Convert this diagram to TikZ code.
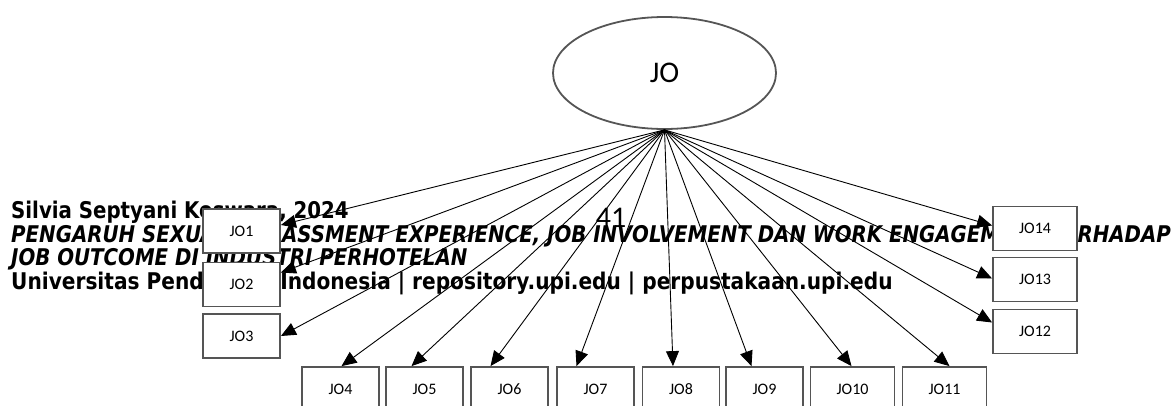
\documentclass[tikz,border=0pt]{standalone}
\usepackage{fontspec}
\setmainfont{Carlito}
\newfontfamily\footfont[FakeStretch=0.86]{DejaVu Sans}
\usetikzlibrary{positioning}
\usetikzlibrary{arrows.meta}
\usetikzlibrary{calc}
\usetikzlibrary{shapes.geometric}
\definecolor{boxGray}{RGB}{85,85,85}

\begin{document}
\begin{tikzpicture}[x=1pt,y=-1pt,
  indicator/.style={draw=boxGray, line width=1.8pt, fill=white, minimum width=77pt, minimum height=44pt, inner sep=0pt, text height=10.5pt, text depth=0pt, font=\fontsize{16}{16}\selectfont},
  wide/.style={minimum width=84pt},
  latent/.style={ellipse, draw=boxGray, line width=1.8pt, fill=white, minimum width=223pt, minimum height=112pt, inner sep=0pt, font=\fontsize{30}{30}\selectfont},
  loading/.style={-{Triangle[length=15pt,width=13pt]}, line width=0.9pt},
  footline/.style={anchor=base west, inner sep=0pt, font=\footfont\bfseries\fontsize{23}{23}\selectfont}]
\useasboundingbox (0,0) rectangle (1174,405);
\clip (0,0) rectangle (1174,405);

% page footer behind the drawing
\node [footline] (author) at (11,218) {Silvia Septyani Koswara, 2024};
\node [footline] (title1) at (11,242) {\itshape PENGARUH SEXUAL HARASSMENT EXPERIENCE, JOB INVOLVEMENT DAN WORK ENGAGEMENT TERHADAP};
\node [footline] (title2) at (11,265) {\itshape JOB OUTCOME DI INDUSTRI PERHOTELAN};
\node [footline] (univ) at (11,289) {\scalebox{1.018}[1]{Universitas Pendidikan Indonesia | repository.upi.edu | perpustakaan.upi.edu}};
\node [anchor=base, inner sep=0pt, font=\fontsize{30}{30}\selectfont] (page) at (611,227) {41};

\node [latent] (jo) at (664.5,73) {JO};

\node [indicator] (jo1) at (241.5,231) {JO1};
\node [indicator] (jo2) at (241.5,284.5) {JO2};
\node [indicator] (jo3) at (241.5,336) {JO3};
\node [indicator] (jo4) at (340.5,389) {JO4};
\node [indicator] (jo5) at (424.5,389) {JO5};
\node [indicator] (jo6) at (509.5,389) {JO6};
\node [indicator] (jo7) at (595.5,389) {JO7};
\node [indicator] (jo8) at (681,389) {JO8};
\node [indicator] (jo9) at (764.5,389) {JO9};
\node [indicator, wide] (jo10) at (852.5,389) {JO10};
\node [indicator, wide] (jo11) at (944.5,389) {JO11};
\node [indicator, wide] (jo12) at (1035,331.5) {JO12};
\node [indicator, wide] (jo13) at (1035,279.5) {JO13};
\node [indicator, wide] (jo14) at (1035,228.5) {JO14};

\foreach \n/\side/\dx/\dy in {1/east/0/-6, 2/east/0/-12, 3/east/0/0,
    4/north/1/0, 5/north/-13/0, 6/north/-19/0, 7/north/-19/0, 8/north/-8/0,
    9/north/-13/0, 10/north/-1/0, 11/north/5/0,
    12/west/0/-9, 13/west/0/-1, 14/west/0/-3}
  \draw [loading] (jo.south) -- ($(jo\n.\side)+(\dx,\dy)$);
\end{tikzpicture}
\end{document}
